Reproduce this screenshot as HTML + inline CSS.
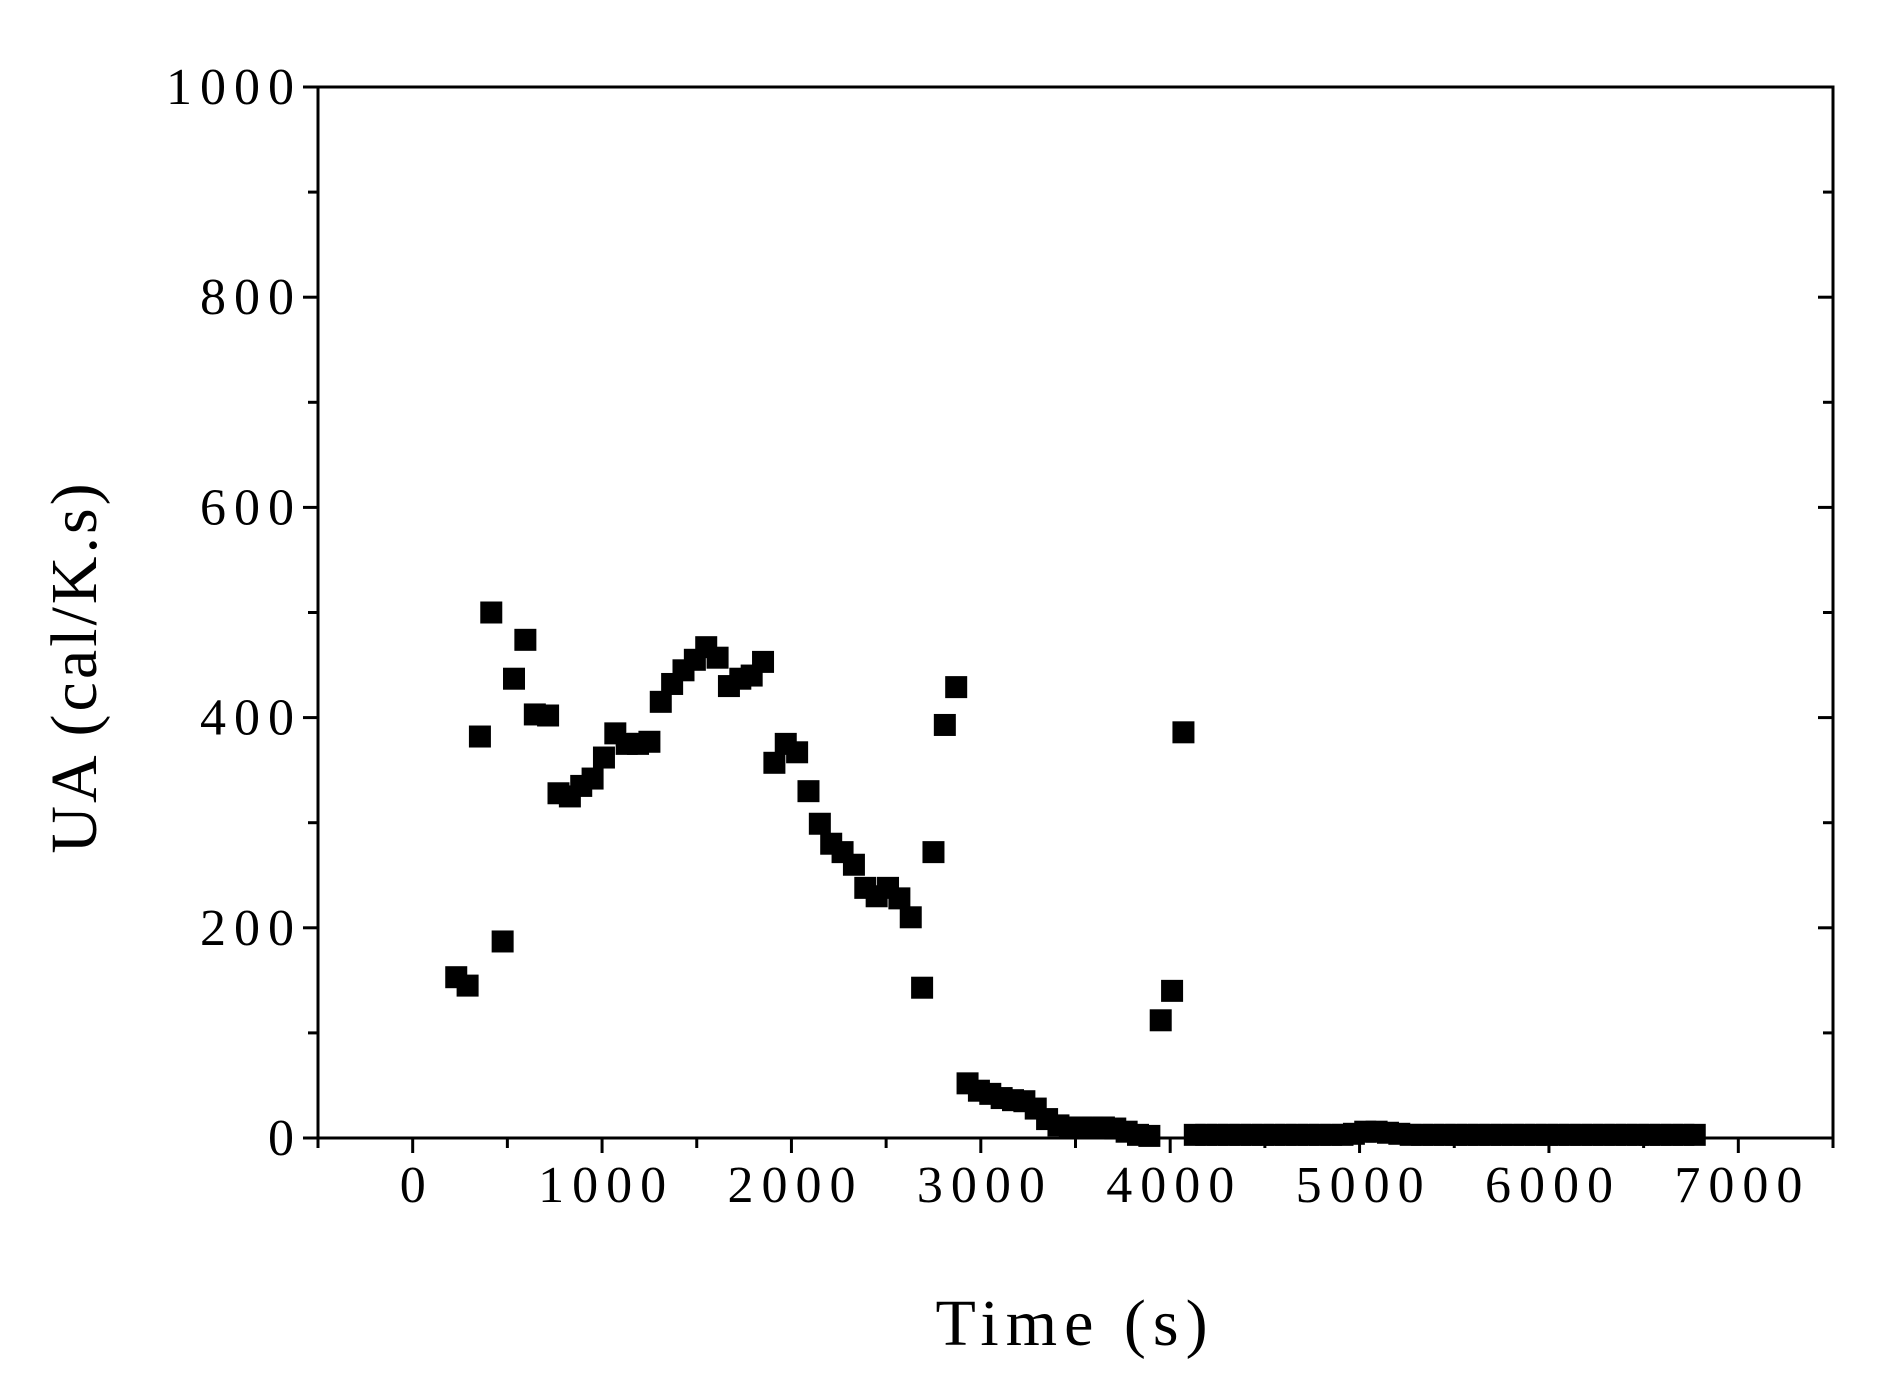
<!DOCTYPE html>
<html><head><meta charset="utf-8"><style>body{margin:0;background:#fff}svg{display:block}</style></head>
<body>
<svg id="chart" width="1895" height="1381" xmlns="http://www.w3.org/2000/svg" font-family="Liberation Serif, serif"></svg>
<script>
const xVals=[230,290,355,415,475,535,595,645,715,770,830,890,950,1010,1070,1130,1190,1250,1310,1370,1430,1490,1550,1610,1670,1730,1790,1850,1910,1970,2030,2090,2150,2210,2270,2330,2390,2450,2510,2570,2630,2690,2750,2810,2870,2930,2990,3050,3110,3170,3230,3290,3350,3410,3470,3530,3590,3650,3710,3770,3830,3890,3950,4010,4070,4130,4190,4250,4310,4370,4430,4490,4550,4610,4670,4730,4790,4850,4910,4970,5030,5090,5150,5210,5270,5330,5390,5450,5510,5570,5630,5690,5750,5810,5870,5930,5990,6050,6110,6170,6230,6290,6350,6410,6470,6530,6590,6650,6710,6770];
const yVals=[153,145,382,500,187,437,474,403,402,328,325,335,342,362,385,375,375,377,415,432,445,455,467,457,430,437,440,453,357,375,367,330,299,280,272,260,238,230,238,228,210,143,272,393,429,52,45,42,38,36,35,28,18,12,10,10,10,10,9,6,3,2,112,140,386,3,3,3,3,3,3,3,3,3,3,3,3,3,3,4,6,6,5,4,3,3,3,3,3,3,3,3,3,3,3,3,3,3,3,3,3,3,3,3,3,3,3,3,3,3];
const xTicks=[0,1000,2000,3000,4000,5000,6000,7000];
const yTicks=[0,200,400,600,800,1000];
const L=318,R=1833,T=87,B=1138,xMin=-500,xMax=7500,yMin=0,yMax=1000;
const sx=v=>L+(v-xMin)/(xMax-xMin)*(R-L);
const sy=v=>B-(v-yMin)/(yMax-yMin)*(B-T);
const svg=document.getElementById('chart');const NS='http://www.w3.org/2000/svg';
function mk(tag,a,p){const e=document.createElementNS(NS,tag);for(const k in a)e.setAttribute(k,a[k]);(p||svg).appendChild(e);return e;}
const frame=mk('rect',{x:L,y:T,width:R-L,height:B-T,fill:'none',stroke:'#000','stroke-width':3});


const pts=mk('g',{});


xVals.forEach((x,i)=>{const r=mk('rect',{x:sx(x)-11,y:sy(yVals[i])-11,width:22,height:22,fill:'#000'},pts);

});
for(let v=-500;v<=7500;v+=500){const maj=v%1000===0;
const t=mk('line',{x1:sx(v),x2:sx(v),y1:B,y2:B+(maj?15:10),stroke:'#000','stroke-width':3});

}
for(let v=0;v<=1000;v+=100){const maj=v%200===0;
const t=mk('line',{x1:L-(maj?15:10),x2:L,y1:sy(v),y2:sy(v),stroke:'#000','stroke-width':3});


const t2=mk('line',{x1:R-(maj?15:10),x2:R,y1:sy(v),y2:sy(v),stroke:'#000','stroke-width':3});

}
xTicks.forEach(v=>{const t=mk('text',{x:sx(v)+4,y:B+64,'text-anchor':'middle','font-size':52,'letter-spacing':8});t.textContent=v;

});
yTicks.forEach(v=>{const t=mk('text',{x:L-16,y:sy(v)+17,'text-anchor':'end','font-size':52,'letter-spacing':8});t.textContent=v;

});
const xt=mk('text',{x:1075,y:1345,'text-anchor':'middle','font-size':66,'letter-spacing':7});xt.textContent='Time (s)';


const yt=mk('text',{x:0,y:0,'text-anchor':'middle','font-size':66,'letter-spacing':3,transform:'translate(96,667) rotate(-90)'});yt.textContent='UA (cal/K.s)';


</script>
</body></html>
